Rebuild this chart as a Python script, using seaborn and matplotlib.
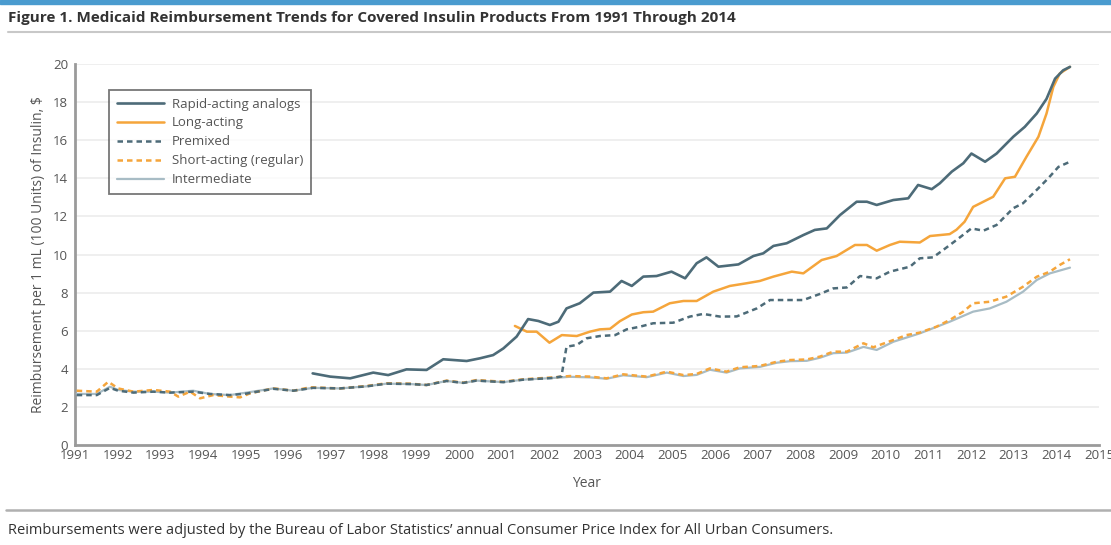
import matplotlib
matplotlib.use("Agg")
import matplotlib.pyplot as plt
from matplotlib.lines import Line2D
import seaborn as sns
import pandas as pd

# Values (decimal year, $ per mL)
rapid_years = [1996.57, 1996.98, 1997.45, 1997.99, 1998.34, 1998.77, 1999.24, 1999.63, 2000.18, 2000.49,
               2000.80, 2001.04, 2001.35, 2001.62, 2001.86, 2002.13, 2002.33, 2002.52, 2002.83, 2003.15,
               2003.54, 2003.81, 2004.05, 2004.32, 2004.63, 2004.98, 2005.30, 2005.57, 2005.80, 2006.08,
               2006.55, 2006.90, 2007.13, 2007.37, 2007.68, 2008.07, 2008.34, 2008.62, 2008.93, 2009.32,
               2009.56, 2009.79, 2010.18, 2010.53, 2010.76, 2011.08, 2011.27, 2011.55, 2011.82, 2012.01,
               2012.33, 2012.60, 2012.99, 2013.26, 2013.54, 2013.77, 2013.97, 2014.16, 2014.32]
rapid_vals = [3.76, 3.59, 3.50, 3.80, 3.67, 3.97, 3.94, 4.50, 4.41, 4.55,
              4.72, 5.07, 5.69, 6.61, 6.51, 6.30, 6.47, 7.17, 7.44, 8.00,
              8.05, 8.61, 8.35, 8.84, 8.87, 9.10, 8.75, 9.54, 9.85, 9.36,
              9.48, 9.92, 10.06, 10.45, 10.59, 11.02, 11.29, 11.37, 12.07, 12.77,
              12.77, 12.60, 12.86, 12.95, 13.65, 13.43, 13.74, 14.35, 14.79, 15.30,
              14.87, 15.30, 16.18, 16.70, 17.40, 18.17, 19.23, 19.67, 19.85]

long_years = [2001.31, 2001.59, 2001.82, 2002.12, 2002.41, 2002.76, 2003.07, 2003.30, 2003.54, 2003.77,
              2004.05, 2004.32, 2004.55, 2004.94, 2005.26, 2005.57, 2005.96, 2006.35, 2006.74, 2007.05,
              2007.37, 2007.80, 2008.07, 2008.50, 2008.85, 2009.28, 2009.56, 2009.79, 2010.10, 2010.33,
              2010.80, 2011.04, 2011.50, 2011.66, 2011.85, 2012.05, 2012.29, 2012.52, 2012.80, 2013.03,
              2013.30, 2013.58, 2013.77, 2013.93, 2014.08, 2014.32]
long_vals = [6.25, 5.95, 5.95, 5.37, 5.77, 5.72, 5.95, 6.07, 6.10, 6.50,
             6.85, 6.97, 7.00, 7.44, 7.56, 7.56, 8.05, 8.35, 8.49, 8.61,
             8.84, 9.10, 9.01, 9.71, 9.92, 10.50, 10.50, 10.20, 10.50, 10.67,
             10.63, 10.97, 11.07, 11.30, 11.72, 12.50, 12.77, 13.03, 14.00, 14.08,
             15.13, 16.18, 17.40, 18.80, 19.50, 19.85]

premixed_years = [1991.04, 1991.51, 1991.82, 1992.01, 1992.37, 1992.84, 1993.23, 1993.77, 1994.16, 1994.63,
                  1995.02, 1995.65, 1996.12, 1996.58, 1997.21, 1997.84, 1998.30, 1998.85, 1999.24, 1999.71,
                  2000.10, 2000.41, 2001.04, 2001.51, 2002.21, 2002.40, 2002.52, 2002.76, 2002.99, 2003.30,
                  2003.66, 2003.93, 2004.24, 2004.55, 2005.02, 2005.41, 2005.72, 2006.12, 2006.51, 2006.98,
                  2007.29, 2007.68, 2008.07, 2008.46, 2008.77, 2009.09, 2009.40, 2009.79, 2010.10, 2010.57,
                  2010.80, 2011.11, 2011.35, 2011.66, 2012.01, 2012.29, 2012.60, 2012.99, 2013.22, 2013.54,
                  2013.81, 2014.05, 2014.32]
premixed_vals = [2.62, 2.62, 3.00, 2.85, 2.75, 2.80, 2.75, 2.80, 2.68, 2.62,
                 2.70, 2.95, 2.85, 3.00, 2.97, 3.08, 3.22, 3.20, 3.15, 3.36,
                 3.26, 3.38, 3.30, 3.43, 3.52, 3.60, 5.16, 5.25, 5.60, 5.72,
                 5.77, 6.07, 6.21, 6.39, 6.42, 6.74, 6.88, 6.74, 6.75, 7.17,
                 7.61, 7.61, 7.61, 7.93, 8.22, 8.27, 8.87, 8.75, 9.10, 9.36,
                 9.80, 9.85, 10.24, 10.76, 11.37, 11.25, 11.55, 12.43, 12.69, 13.39,
                 14.00, 14.60, 14.87]

short_years = [1991.04, 1991.51, 1991.78, 1992.01, 1992.37, 1992.84, 1993.23, 1993.42, 1993.70, 1993.93,
               1994.24, 1994.63, 1994.87, 1995.10, 1995.65, 1996.12, 1996.51, 1997.21, 1997.84, 1998.30,
               1998.85, 1999.24, 1999.71, 2000.10, 2000.41, 2001.04, 2001.51, 2002.21, 2002.60, 2003.07,
               2003.46, 2003.85, 2004.40, 2004.87, 2005.26, 2005.57, 2005.88, 2006.27, 2006.58, 2007.05,
               2007.45, 2007.76, 2008.15, 2008.46, 2008.77, 2009.09, 2009.48, 2009.71, 2010.18, 2010.49,
               2010.80, 2011.19, 2011.50, 2011.82, 2012.05, 2012.44, 2012.83, 2013.22, 2013.54, 2013.85,
               2014.08, 2014.32]
short_vals = [2.85, 2.80, 3.32, 2.97, 2.80, 2.89, 2.80, 2.54, 2.80, 2.45,
              2.62, 2.54, 2.50, 2.71, 2.97, 2.85, 3.03, 2.97, 3.10, 3.24,
              3.22, 3.15, 3.38, 3.27, 3.41, 3.32, 3.45, 3.55, 3.62, 3.59,
              3.50, 3.71, 3.59, 3.85, 3.67, 3.73, 4.02, 3.85, 4.08, 4.15,
              4.37, 4.46, 4.49, 4.64, 4.90, 4.90, 5.34, 5.13, 5.51, 5.77,
              5.90, 6.21, 6.56, 7.00, 7.44, 7.52, 7.79, 8.31, 8.83, 9.10,
              9.45, 9.75]

inter_years = [1991.04, 1991.51, 1991.82, 1992.01, 1992.37, 1992.84, 1993.23, 1993.77, 1994.16, 1994.63,
               1995.02, 1995.65, 1996.12, 1996.58, 1997.21, 1997.84, 1998.30, 1998.85, 1999.24, 1999.71,
               2000.10, 2000.41, 2001.04, 2001.51, 2002.21, 2002.60, 2003.07, 2003.46, 2003.85, 2004.40,
               2004.87, 2005.26, 2005.57, 2005.88, 2006.27, 2006.58, 2007.05, 2007.45, 2007.76, 2008.15,
               2008.46, 2008.77, 2009.09, 2009.48, 2009.79, 2010.18, 2010.80, 2011.50, 2012.05, 2012.44,
               2012.83, 2013.22, 2013.54, 2013.85, 2014.32]
inter_vals = [2.68, 2.68, 3.06, 2.89, 2.80, 2.80, 2.75, 2.85, 2.68, 2.62,
              2.75, 2.97, 2.85, 3.00, 2.97, 3.08, 3.22, 3.20, 3.15, 3.36,
              3.26, 3.38, 3.30, 3.43, 3.52, 3.58, 3.55, 3.48, 3.66, 3.56,
              3.80, 3.62, 3.68, 3.95, 3.80, 4.02, 4.10, 4.32, 4.40, 4.42,
              4.58, 4.82, 4.85, 5.15, 4.99, 5.42, 5.86, 6.47, 7.00, 7.17,
              7.52, 8.05, 8.66, 9.01, 9.31]

series_names = ["Rapid-acting analogs", "Long-acting", "Premixed", "Short-acting (regular)", "Intermediate"]
x_ticks = list(range(1991, 2016))
y_ticks = list(range(0, 21, 2))

slate = "#4d6b78"
orange = "#f5a53b"
light = "#a8bcc5"
styles = {
    "Intermediate": dict(color=light, lw=1.6, ls="-"),
    "Short-acting (regular)": dict(color=orange, lw=1.8, ls=(0, (2.2, 1.6))),
    "Premixed": dict(color=slate, lw=1.8, ls=(0, (2.2, 1.6))),
    "Long-acting": dict(color=orange, lw=1.8, ls="-"),
    "Rapid-acting analogs": dict(color=slate, lw=1.9, ls="-"),
}
data = {
    "Rapid-acting analogs": (rapid_years, rapid_vals),
    "Long-acting": (long_years, long_vals),
    "Premixed": (premixed_years, premixed_vals),
    "Short-acting (regular)": (short_years, short_vals),
    "Intermediate": (inter_years, inter_vals),
}

sns.set_theme(style="white")
plt.rcParams["font.family"] = ["Open Sans", "DejaVu Sans"]

fig = plt.figure(figsize=(11.11, 5.45), dpi=100)
ax = fig.add_axes([75 / 1111, 1 - 445 / 545, (1099 - 75) / 1111, (445 - 64) / 545])

for y in y_ticks[1:]:
    ax.axhline(y, color="#ececec", lw=1.2, zorder=0)

# draw back to front so the dashed series sit on top of the pale one
for name in ["Intermediate", "Short-acting (regular)", "Premixed", "Long-acting", "Rapid-acting analogs"]:
    xs, ys = data[name]
    df = pd.DataFrame({"year": xs, "value": ys})
    st = styles[name]
    sns.lineplot(data=df, x="year", y="value", ax=ax, color=st["color"], lw=st["lw"],
                 linestyle=st["ls"], estimator=None, sort=True, zorder=3)

ax.set_xlim(1991, 2015)
ax.set_ylim(0, 20)
ax.set_xticks(x_ticks)
ax.set_yticks(y_ticks)
ax.tick_params(axis="x", direction="in", length=3, width=1, color="#777", labelsize=9.5,
               labelcolor="#555", pad=3)
ax.tick_params(axis="y", direction="out", length=3, width=1, color="#777", labelsize=9.5,
               labelcolor="#555", pad=2)
for side in ["top", "right"]:
    ax.spines[side].set_visible(False)
ax.spines["left"].set_color("#9a9a9a")
ax.spines["left"].set_linewidth(2)
ax.spines["bottom"].set_color("#9a9a9a")
ax.spines["bottom"].set_linewidth(2)
ax.set_xlabel("Year", fontsize=10, color="#555", labelpad=10)
ax.set_ylabel("Reimbursement per 1 mL (100 Units) of Insulin, $", fontsize=10, color="#555", labelpad=5)

handles = [Line2D([0], [0], color=styles[n]["color"], lw=styles[n]["lw"], ls=styles[n]["ls"])
           for n in series_names]
leg = ax.legend(handles, series_names, loc="upper left", bbox_to_anchor=(27 / 1024, 1 - 19 / 381),
                frameon=True, fancybox=False, fontsize=9.5, handlelength=3.6, handletextpad=0.6,
                labelspacing=0.45, borderpad=0.6, labelcolor="#555")
leg.get_frame().set_edgecolor("#555")
leg.get_frame().set_linewidth(1.3)

# page furniture: blue band, title, rules, footnote
fig.patches.append(plt.Rectangle((0, 1 - 4 / 545), 1, 4 / 545, transform=fig.transFigure,
                                 color="#4a9bcf", zorder=5))
fig.text(8 / 1111, 1 - 18 / 545, "Figure 1. Medicaid Reimbursement Trends for Covered Insulin Products From 1991 Through 2014",
         fontsize=11, fontweight="bold", color="#333", va="center", ha="left")
fig.add_artist(Line2D([8 / 1111, 1], [1 - 32 / 545] * 2, color="#c8c8c8", lw=1.5))
fig.add_artist(Line2D([6 / 1111, 1], [1 - 510 / 545] * 2, color="#b0b0b0", lw=1.8))
fig.text(8 / 1111, 1 - 530 / 545,
         "Reimbursements were adjusted by the Bureau of Labor Statistics\u2019 annual Consumer Price Index for All Urban Consumers.",
         fontsize=10.5, color="#333", va="center", ha="left")

fig.savefig("out.png", dpi=100)
